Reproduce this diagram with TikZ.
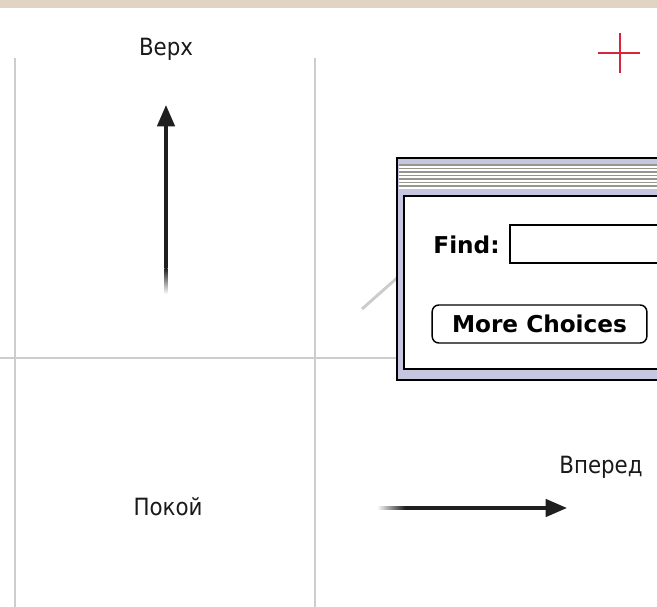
\documentclass[tikz,border=0pt]{standalone}
\usepackage{fontspec}
\setmainfont{DejaVu Sans}[FakeStretch=0.9]
\newfontfamily\chicago{DejaVu Sans}[BoldFont={DejaVu Sans Bold}]
\usetikzlibrary{arrows.meta,positioning}
\definecolor{sand}{RGB}{226,212,194}
\definecolor{gridgray}{RGB}{205,205,205}
\definecolor{plusred}{RGB}{214,38,58}
\definecolor{bevel}{RGB}{198,198,224}
\definecolor{stripe}{RGB}{150,150,140}

\begin{document}
\begin{tikzpicture}[x=0.75pt,y=-0.75pt,>={Triangle[length=16pt,width=13pt]},
                    semithick]
  \tikzstyle{grid line}=[draw=gridgray,line width=0.9pt]
  \tikzstyle{motion}=[->,line width=2.6pt,draw=black!88]
  \tikzstyle{dirtext}=[anchor=base,inner sep=0pt,font=\fontsize{17.8}{20}\selectfont,text=black!90]
  \tikzstyle{macbold}=[inner sep=0pt,font=\chicago\bfseries\fontsize{17.4}{20}\selectfont]
  \tikzstyle{button}=[draw,line width=1.1pt,rounded corners=5pt,
                      minimum width=161pt,minimum height=28.5pt,macbold]

  \clip (0,0) rectangle (657,607);
  \fill[white] (0,0) rectangle (657,607);
  \fill[sand] (0,0) rectangle (657,8);

  % grid
  \draw[grid line] (15,58) -- (15,607);
  \draw[grid line] (315,58) -- (315,607);
  \draw[grid line] (0,358) -- (400,358);

  \node[dirtext]	(up)	at (166,55)	{Верх};
  \node[dirtext]	(rest)	at (168,515)	{Покой};
  \node[dirtext]	(fwd)	at (601,473)	{Вперед};

  \coordinate (upTip)	at (166,105);
  \coordinate (upTail)	at (166,268);
  \coordinate (fwdTail)	at (405,508);
  \coordinate (fwdTip)	at (567,508);
  \coordinate (glideA)	at (362,309);
  \coordinate (glideB)	at (397,278);

  \draw[motion] (upTail) -- (upTip);
  \draw[motion] (fwdTail) -- (fwdTip);
  \shade[top color=black!88,bottom color=white] (164.3,268) rectangle (167.7,294);
  \shade[left color=white,right color=black!88] (377,506.3) rectangle (405,509.7);
  \draw[gray!40,line width=2.2pt] (glideA) -- (glideB);

  % cursor
  \draw[plusred,line width=1.8pt] (598,53) -- (640,53) (620,33) -- (620,73);

  % find window
  \draw[fill=bevel,line width=1.2pt] (397,158) rectangle (690,380);
  \fill[white] (399,164) rectangle (690,188.5);
  \foreach \y in {165,168.5,...,188}
    \draw[stripe,line width=1.1pt] (399,\y) -- (690,\y);
  \draw[fill=white,line width=1.5pt] (404,195.5) rectangle (690,369);

  \node[macbold,anchor=base west]	(find)	at (433,253)	{Find:};
  \draw[line width=1.2pt] (510,225) rectangle (690,263);
  \node[button]	(more)	at (539.5,324)	{More Choices};

\end{tikzpicture}
\end{document}
